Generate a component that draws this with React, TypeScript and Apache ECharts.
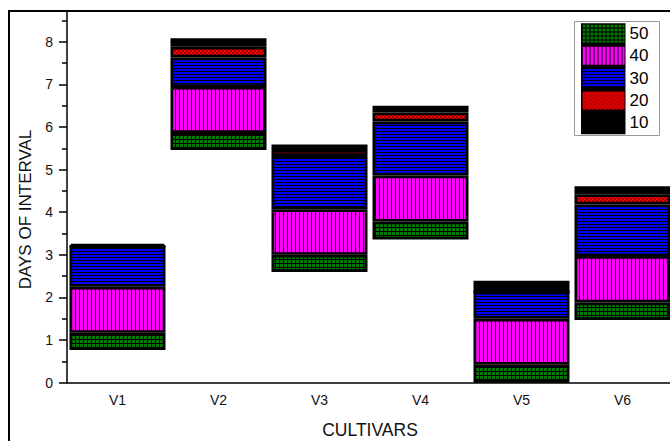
import React, { useEffect, useRef } from 'react';
import * as echarts from 'echarts';

const categories = ['V1', 'V2', 'V3', 'V4', 'V5', 'V6'];
const baseValues = [0.77, 5.46, 2.6, 3.36, 0.0, 1.47];
const values50 = [0.4, 0.4, 0.4, 0.42, 0.42, 0.41];
const values40 = [1.08, 1.08, 1.07, 1.08, 1.08, 1.09];
const values30 = [0.95, 0.69, 1.25, 1.27, 0.63, 1.21];
const values20 = [0, 0.25, 0.14, 0.21, 0, 0.24];
const values10 = [0.06, 0.2, 0.13, 0.16, 0.26, 0.19];
const legendNames = ['50', '40', '30', '20', '10'];
const yMajorTicks = [0, 1, 2, 3, 4, 5, 6, 7, 8];
const yMinorTicks = [0.5, 1.5, 2.5, 3.5, 4.5, 5.5, 6.5, 7.5, 8.5];

const FONT = '"Liberation Sans", Arial, Helvetica, sans-serif';

function makePattern(w: number, h: number, bg: string, draw: (ctx: CanvasRenderingContext2D) => void) {
  const c = document.createElement('canvas');
  c.width = w;
  c.height = h;
  const ctx = c.getContext('2d') as CanvasRenderingContext2D;
  ctx.fillStyle = bg;
  ctx.fillRect(0, 0, w, h);
  ctx.fillStyle = '#000';
  draw(ctx);
  return { image: c, repeat: 'repeat', imageWidth: w, imageHeight: h } as any;
}

export default function App() {
  const ref = useRef<HTMLDivElement>(null);

  useEffect(() => {
    if (!ref.current) return;
    const chart = echarts.init(ref.current, null, { renderer: 'svg' });

    const green = makePattern(4, 4, '#007a00', (ctx) => {
      ctx.fillRect(3, 0, 1, 4);
      ctx.fillRect(0, 3, 4, 1);
    });
    const magenta = makePattern(4, 1, '#ff00ff', (ctx) => {
      ctx.fillRect(3, 0, 1, 1);
    });
    const blue = makePattern(1, 3, '#0000ff', (ctx) => {
      ctx.fillRect(0, 2, 1, 1);
    });
    const red = makePattern(4, 4, '#ff0000', (ctx) => {
      ctx.fillStyle = '#9a0000';
      ctx.fillRect(0, 0, 2, 2);
      ctx.fillRect(2, 2, 2, 2);
    });

    const seg = (name: string, data: number[], color: any) => ({
      name,
      type: 'bar',
      stack: 's',
      data,
      barWidth: 96,
      itemStyle: { color, borderColor: '#000', borderWidth: 2.7 },
      emphasis: { disabled: true },
    });

    const axisLine = { color: '#000', width: 1.5 };

    chart.setOption({
      animation: false,
      backgroundColor: '#fff',
      grid: { left: 67, top: 11.9, right: 27, bottom: 77.3, containLabel: false },
      legend: {
        data: legendNames,
        orient: 'vertical',
        left: 582.5,
        top: 24.5,
        padding: 0,
        itemWidth: 42,
        itemHeight: 18,
        itemGap: 4.3,
        icon: 'rect',
        selectedMode: false,
        itemStyle: { borderWidth: 0 },
        textStyle: { fontSize: 17, color: '#000', fontFamily: FONT, lineHeight: 18 },
        z: 20,
      },
      xAxis: [
        {
          type: 'category',
          data: categories,
          position: 'bottom',
          axisLine: { lineStyle: axisLine },
          axisTick: { alignWithLabel: true, length: 6, lineStyle: axisLine },
          axisLabel: { fontSize: 14, color: '#111', fontFamily: FONT, margin: 10 },
          splitLine: { show: false },
        },
        {
          type: 'category',
          data: categories,
          position: 'bottom',
          axisLine: { show: false },
          axisTick: { length: 4, lineStyle: axisLine },
          axisLabel: { show: false },
          splitLine: { show: false },
        },
      ],
      yAxis: [
        {
          type: 'value',
          min: 0,
          max: 8.7,
          interval: 1,
          position: 'left',
          axisLine: { show: true, lineStyle: axisLine },
          axisTick: { show: true, length: 8, lineStyle: axisLine, customValues: yMajorTicks },
          axisLabel: {
            customValues: yMajorTicks,
            fontSize: 14,
            color: '#111',
            fontFamily: FONT,
            margin: 14,
            formatter: (v: number) => (Number.isInteger(v) ? String(v) : ''),
          },
          splitLine: { show: false },
        },
        {
          type: 'value',
          min: 0,
          max: 8.7,
          interval: 0.5,
          position: 'left',
          axisLine: { show: false },
          axisTick: { show: true, length: 5, lineStyle: axisLine, customValues: yMinorTicks },
          axisLabel: { show: false },
          splitLine: { show: false },
        },
      ],
      graphic: [
        {
          type: 'rect',
          shape: { x: 9, y: 11, width: 720, height: 520 },
          style: { fill: 'none', stroke: '#000', lineWidth: 2 },
          z: 50,
          silent: true,
        },
        {
          type: 'rect',
          shape: { x: 574.5, y: 21.5, width: 85, height: 114 },
          style: { fill: '#fff', stroke: '#999', lineWidth: 1 },
          z: 15,
          silent: true,
        },
        {
          type: 'rect',
          shape: { x: 581, y: 23.3, width: 44.5, height: 111 },
          style: { fill: '#000' },
          z: 16,
          silent: true,
        },
        {
          type: 'text',
          x: 25,
          y: 209.5,
          rotation: Math.PI / 2,
          style: {
            text: 'DAYS OF INTERVAL',
            fill: '#111',
            fontSize: 17,
            fontFamily: FONT,
            align: 'center',
            verticalAlign: 'middle',
            textAlign: 'center',
            textVerticalAlign: 'middle',
          },
          z: 30,
        },
        {
          type: 'text',
          x: 370,
          y: 430,
          style: {
            text: 'CULTIVARS',
            fill: '#111',
            fontSize: 17.5,
            fontFamily: FONT,
            align: 'center',
            verticalAlign: 'middle',
            textAlign: 'center',
            textVerticalAlign: 'middle',
          },
          z: 30,
        },
      ],
      series: [
        {
          name: 'base',
          type: 'bar',
          stack: 's',
          data: baseValues,
          barWidth: 96,
          itemStyle: { color: 'transparent', borderWidth: 0 },
          silent: true,
          emphasis: { disabled: true },
        },
        seg('50', values50, green),
        seg('40', values40, magenta),
        seg('30', values30, blue),
        seg('20', values20, red),
        seg('10', values10, '#000'),
      ],
    });

    return () => chart.dispose();
  }, []);

  return (
    <div style={{ position: 'fixed', left: 0, top: 0, width: 670, height: 441, overflow: 'hidden', background: '#fff' }}>
      <div ref={ref} style={{ width: 700, height: 460 }} />
    </div>
  );
}
